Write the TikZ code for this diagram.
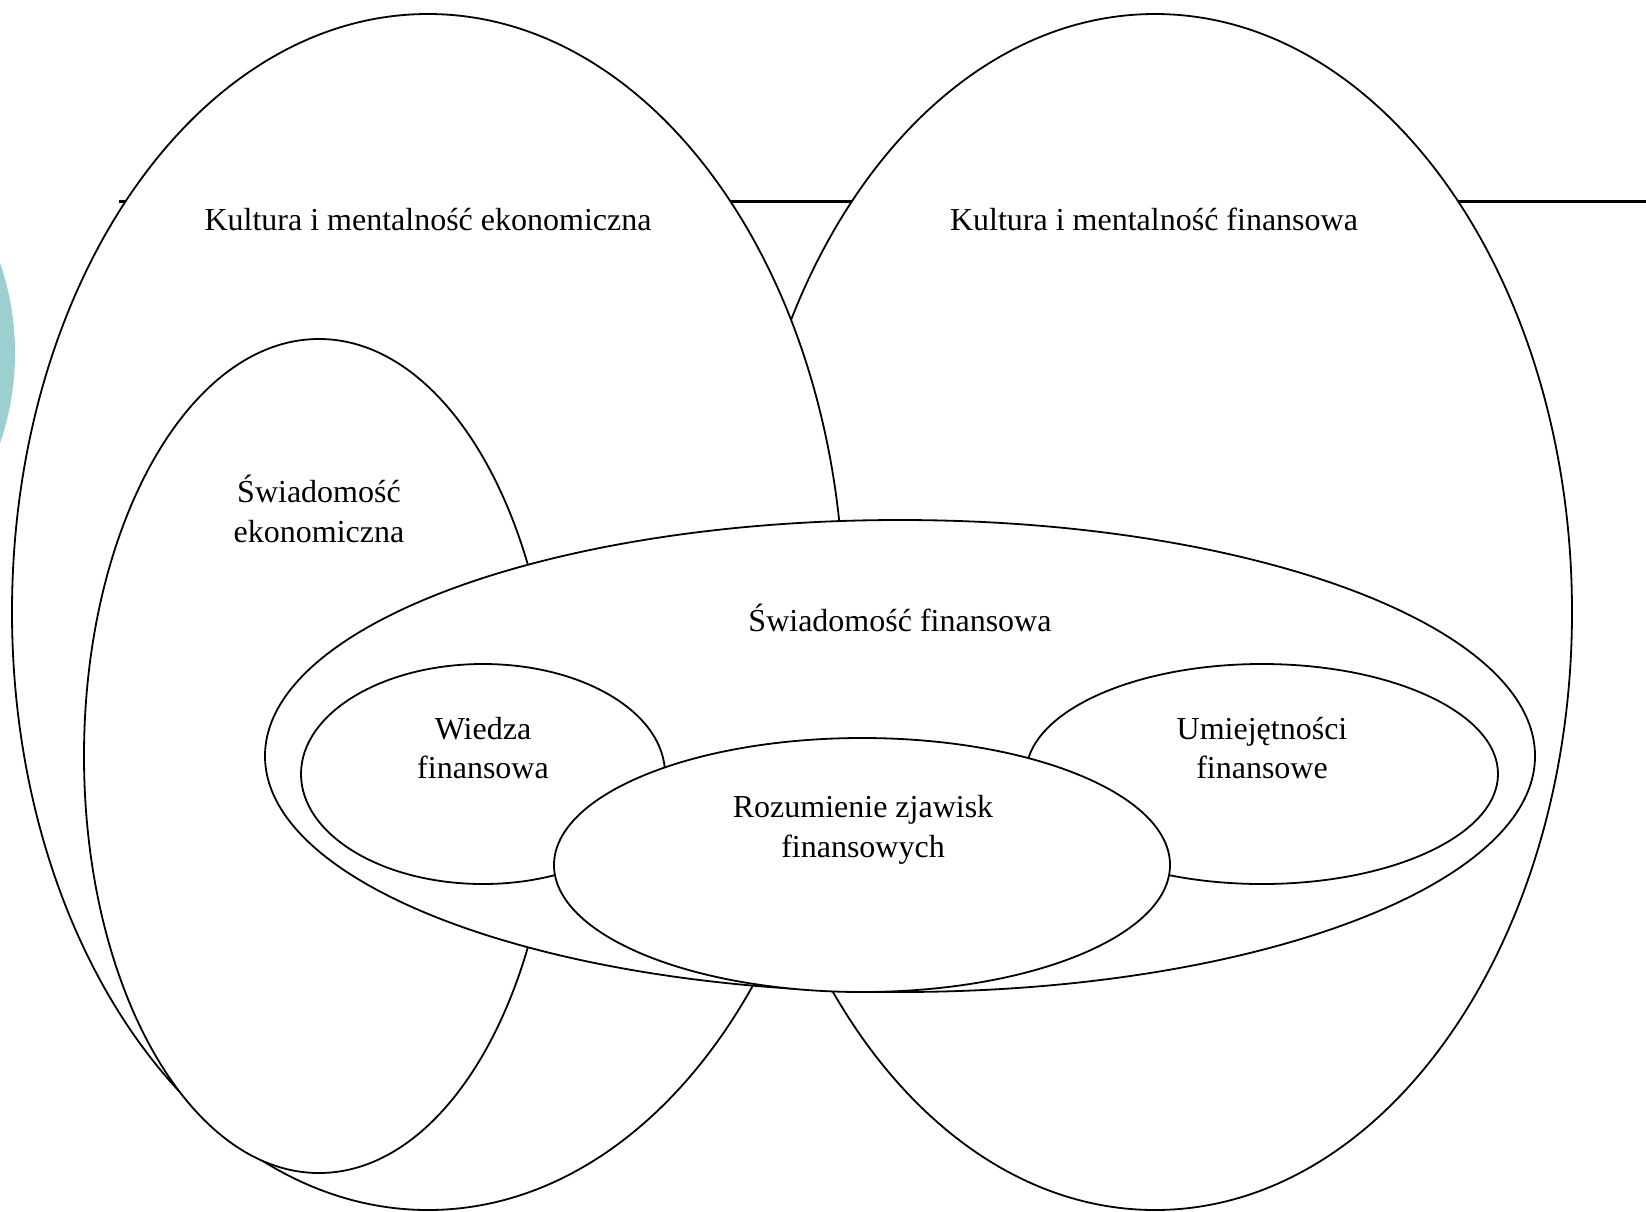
\documentclass[tikz,border=0pt]{standalone}
\usepackage{fontspec}
\setmainfont{Liberation Serif}
\usepackage{tikz}
\usetikzlibrary{positioning}
\usetikzlibrary{shapes.geometric}
\definecolor{slideteal}{HTML}{9BCFD0}

\begin{document}
\begin{tikzpicture}[x=1pt,y=-1pt,
    area/.style={draw,ellipse,fill=white,line width=1.8pt,inner sep=0pt},
    txt/.style={align=center,font=\fontsize{32}{39.5}\selectfont}]
      \useasboundingbox (0,0) rectangle (1646,1211);
      \fill[slideteal] (-262,353) circle (277);
      \coordinate (ls) at (119,201);
      \coordinate (le) at (1646,201);
      \draw[line width=3pt] (ls) -- (le);
      \node (KF) [area,minimum width=834pt,minimum height=1196pt] at (1155,612) {};
      \node (KE) [area,minimum width=832pt,minimum height=1196pt] at (428,612) {};
      \node (SE) [area,minimum width=470pt,minimum height=834pt] at (319,756) {};
      \node (SF) [area,minimum width=1270pt,minimum height=472pt] at (900,756) {};
      \node (WF) [area,minimum width=364pt,minimum height=220pt] at (483,774) {};
      \node (UF) [area,minimum width=472pt,minimum height=220pt] at (1262,774) {};
      \node (RZ) [area,minimum width=616pt,minimum height=254pt] at (862,865) {};
      \node (tKE) [txt,anchor=base] at (428,230.5) {Kultura i mentalność ekonomiczna};
      \node (tKF) [txt,anchor=base] at (1154,230.5) {Kultura i mentalność finansowa};
      \node (tSE) [txt] at (319,509) {Świadomość\\ekonomiczna};
      \node (tSF) [txt,anchor=base] at (900,631) {Świadomość finansowa};
      \node (tWF) [txt] at (483,748) {Wiedza\\finansowa};
      \node (tUF) [txt] at (1262,748) {Umiejętności\\finansowe};
      \node (tRZ) [txt] at (863,830) {Rozumienie zjawisk\\finansowych};
    \end{tikzpicture}
\end{document}
